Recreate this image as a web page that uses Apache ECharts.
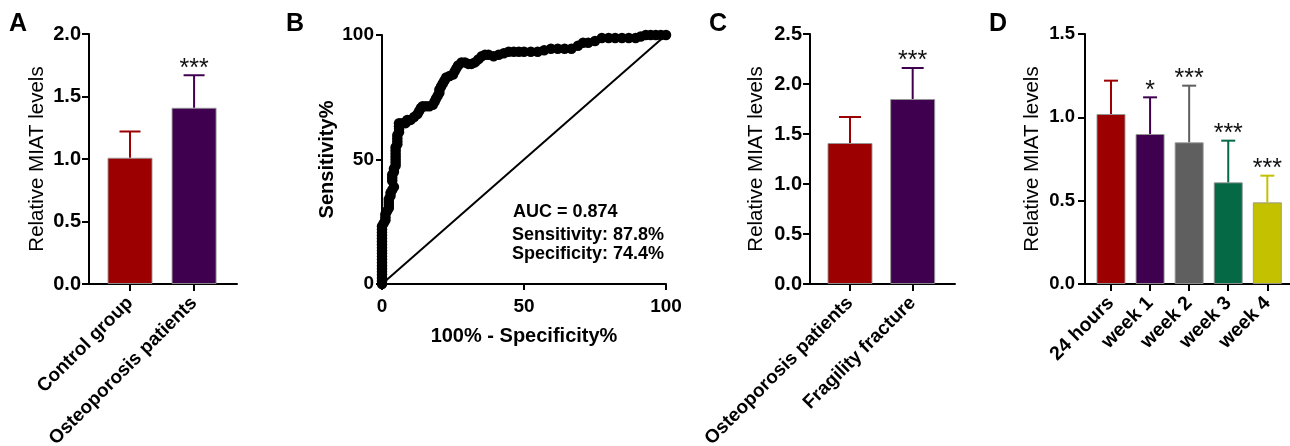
<!DOCTYPE html>
<html>
<head>
<meta charset="utf-8">
<script src="https://cdn.jsdelivr.net/npm/echarts@6/dist/echarts.min.js"></script>
<style>
  html, body { margin: 0; padding: 0; background: #fff; }
  #main { width: 1290px; height: 446px; }
</style>
</head>
<body>
<div id="main"></div>
<script>
const FONT = "'Liberation Sans', Arial, sans-serif";

// panel A
const catsA = ['Control group', 'Osteoporosis patients'];
const meanA = [1.01, 1.41];
const sdA = [0.21, 0.26];
const starsA = ['', '***'];
const colorsA = ['#9c0000', '#3f004f'];

// panel C
const catsC = ['Osteoporosis patients', 'Fragility fracture'];
const meanC = [1.41, 1.85];
const sdC = [0.26, 0.31];
const starsC = ['', '***'];
const colorsC = ['#9c0000', '#3f004f'];

// panel D
const catsD = ['24 hours', 'week 1', 'week 2', 'week 3', 'week 4'];
const meanD = [1.02, 0.90, 0.85, 0.61, 0.49];
const sdD = [0.20, 0.22, 0.34, 0.25, 0.16];
const starsD = ['', '*', '***', '***', '***'];
const colorsD = ['#9c0000', '#3f004f', '#5f5f5f', '#066946', '#c4c100'];

// panel B - ROC curve (100% - specificity, sensitivity)
const rocFpr = [
  0, 0, 0, 0, 0, 0, 0, 0, 0, 0, 0, 0, 0, 0, 0, 0, 0, 0, 0, 0,
  0.6, 1.2, 1.2, 1.2, 1.8, 2.4, 2.4, 2.4, 2.4, 3, 3, 3.6, 4.2, 3.6, 3.6, 3.6, 4.2, 4.2, 4.8, 4.8,
  4.8, 4.8, 4.8, 4.8, 4.8, 5.4, 5.4, 5.4, 5.4, 6, 6, 6, 6,
  7.1, 8.3, 8.9, 10.1, 11.3, 12.5, 13.1, 13.7, 14.3, 15.5, 16.7, 17.9, 18.5, 19, 19.6, 20.2, 20.2,
  20.8, 21.4, 22, 22.6, 23.8, 25, 25.6, 26.2, 26.8, 28, 29.2, 30.4, 31.5, 32.7, 33.9, 35.1, 36.3,
  37.5, 39.3, 41.1, 42.9, 44.6, 46.4, 48.2, 50, 52.4, 54.8, 57.1, 59.5, 61.9, 64.3, 66.7, 69,
  70.8, 72.6, 75, 77.4, 79.8, 82.1, 84.5, 86.9, 89.3, 91.1, 92.9, 94.6, 96.4, 98.2, 100
];
const rocSens = [
  0, 1.2, 2.4, 3.7, 4.9, 6.1, 7.3, 8.5, 9.8, 11, 12.2, 13.4, 14.6, 15.9, 17.1, 18.3, 19.5, 20.7, 22, 23.2,
  24.4, 25.6, 26.8, 28, 29.3, 30.5, 31.7, 32.9, 34.1, 35.4, 36.6, 37.8, 39, 41.5, 42.7, 43.9, 45.1, 46.3, 47.6, 48.8,
  50, 51.2, 52.4, 53.7, 54.9, 56.1, 57.3, 58.5, 59.8, 61, 62.2, 63.4, 64.6,
  64.6, 64.6, 65.9, 65.9, 67.1, 68.3, 69.5, 70.7, 71.4, 71.4, 71.4, 72, 73.2, 74.4, 75.6, 76.8, 78,
  79.3, 80.5, 81.7, 82.9, 83.5, 84.1, 85.4, 86.6, 87.8, 89, 89, 88.4, 88.4, 89, 90.2, 91.5, 92.1,
  92.1, 91.5, 92.1, 92.7, 93.3, 93.3, 93.3, 93.3, 93.3, 93.3, 93.9, 94.5, 94.5, 94.5, 94.5, 95.7,
  96.9, 96.9, 97.6, 98.8, 98.8, 98.8, 98.8, 98.8, 98.8, 99.4, 100, 100, 100, 100, 100
];
const refLine = [[0, 0], [100, 100]];
const statsB = ['AUC = 0.874', 'Sensitivity: 87.8%', 'Specificity: 74.4%'];

const chart = echarts.init(document.getElementById('main'), null, { renderer: 'canvas' });

const grids = [];
const xAxes = [];
const yAxes = [];
const series = [];

function barPanel(idx, g, cats, means, sds, stars, colors, opt) {
  grids.push({ left: g.left, top: 34, width: g.width, height: 250, outerBoundsMode: 'none', containLabel: false });
  const ticks = cats.map((c, i) => i);
  xAxes.push({
    gridIndex: idx, type: 'value', min: opt.xmin, max: opt.xmax,
    axisLine: { onZero: false, lineStyle: { color: '#000', width: 2 } },
    axisTick: { customValues: ticks, length: 7, lineStyle: { color: '#000', width: 2 } },
    axisLabel: {
      customValues: ticks, formatter: v => cats[v], rotate: 45, margin: 16,
      color: '#000', fontFamily: FONT, fontWeight: 'bold', fontSize: opt.catFont
    },
    splitLine: { show: false }
  });
  yAxes.push({
    gridIndex: idx, type: 'value', min: 0, max: opt.ymax, interval: 0.5,
    name: 'Relative MIAT levels', nameLocation: 'middle', nameGap: opt.nameGap,
    nameTextStyle: { color: '#000', fontFamily: FONT, fontSize: 20.5 },
    axisLine: { show: true, onZero: false, lineStyle: { color: '#000', width: 2 } },
    axisTick: { show: true, length: 7, lineStyle: { color: '#000', width: 2 } },
    axisLabel: {
      margin: opt.labMargin, formatter: v => v.toFixed(1),
      color: '#000', fontFamily: FONT, fontWeight: 'bold', fontSize: opt.tickFont
    },
    splitLine: { show: false }
  });
  series.push({
    type: 'bar', xAxisIndex: idx, yAxisIndex: idx, barWidth: opt.barW,
    data: means.map((m, i) => ({
      value: [i, m],
      itemStyle: { color: colors[i], borderColor: 'rgba(150,150,150,0.9)', borderWidth: 1 }
    })),
    animation: false
  });
  series.push({
    type: 'custom', xAxisIndex: idx, yAxisIndex: idx, z: 5,
    data: means.map((m, i) => [i, m, sds[i]]),
    encode: { x: 0, y: 1 },
    renderItem: function (params, api) {
      const i = params.dataIndex;
      const x = api.value(0), m = api.value(1), s = api.value(2);
      const b = api.coord([x, m]);
      const t = api.coord([x, m + s]);
      const half = opt.capW / 2;
      const col = colors[i];
      return {
        type: 'group',
        children: [
          { type: 'line', shape: { x1: b[0], y1: b[1], x2: t[0], y2: t[1] }, style: { stroke: col, lineWidth: 2 } },
          { type: 'line', shape: { x1: t[0] - half, y1: t[1], x2: t[0] + half, y2: t[1] }, style: { stroke: col, lineWidth: 2 } },
          {
            type: 'text', x: t[0], y: t[1] + 6,
            style: { text: stars[i], fill: '#111', fontFamily: FONT, fontSize: 25, align: 'center', verticalAlign: 'bottom' }
          }
        ]
      };
    },
    animation: false
  });
}

// A
barPanel(0, { left: 89, width: 148 }, catsA, meanA, sdA, starsA, colorsA,
  { xmin: -0.64, xmax: 1.67, ymax: 2.0, barW: 45, capW: 21, nameGap: 41, labMargin: 8, tickFont: 20, catFont: 19 });

// B
grids.push({ left: 382, top: 35, width: 284, height: 249, outerBoundsMode: 'none', containLabel: false });
xAxes.push({
  gridIndex: 1, type: 'value', min: 0, max: 100, interval: 50,
  name: '100% - Specificity%', nameLocation: 'middle', nameGap: 42,
  nameTextStyle: { color: '#000', fontFamily: FONT, fontWeight: 'bold', fontSize: 20 },
  axisLine: { onZero: false, lineStyle: { color: '#000', width: 2 } },
  axisTick: { length: 6, lineStyle: { color: '#000', width: 2 } },
  axisLabel: { margin: 13, color: '#000', fontFamily: FONT, fontWeight: 'bold', fontSize: 19 },
  splitLine: { show: false }
});
yAxes.push({
  gridIndex: 1, type: 'value', min: 0, max: 100, interval: 50,
  name: 'Sensitivity%', nameLocation: 'middle', nameGap: 45,
  nameTextStyle: { color: '#000', fontFamily: FONT, fontWeight: 'bold', fontSize: 20 },
  axisLine: { show: true, onZero: false, lineStyle: { color: '#000', width: 2 } },
  axisTick: { show: true, length: 6, lineStyle: { color: '#000', width: 2 } },
  axisLabel: { margin: 8, color: '#000', fontFamily: FONT, fontWeight: 'bold', fontSize: 19 },
  splitLine: { show: false }
});
series.push({
  type: 'line', xAxisIndex: 1, yAxisIndex: 1, data: refLine, showSymbol: false,
  lineStyle: { color: '#000', width: 2 }, animation: false, silent: true
});
series.push({
  type: 'line', xAxisIndex: 1, yAxisIndex: 1,
  data: rocFpr.map((f, i) => [f, rocSens[i]]),
  symbol: 'circle', symbolSize: 10.5, showAllSymbol: true,
  itemStyle: { color: '#000' }, lineStyle: { color: '#000', width: 3 },
  animation: false, z: 4
});

// C
barPanel(2, { left: 810, width: 145 }, catsC, meanC, sdC, starsC, colorsC,
  { xmin: -0.638, xmax: 1.675, ymax: 2.5, barW: 45, capW: 22, nameGap: 43, labMargin: 8, tickFont: 20, catFont: 19 });

// D
barPanel(3, { left: 1085, width: 205 }, catsD, meanD, sdD, starsD, colorsD,
  { xmin: -0.665, xmax: 4.58, ymax: 1.5, barW: 29, capW: 14, nameGap: 42, labMargin: 10, tickFont: 18.5, catFont: 19.5 });

const letterStyle = { fill: '#000', fontFamily: FONT, fontWeight: 'bold', fontSize: 25 };
const statStyle = { fill: '#000', fontFamily: FONT, fontWeight: 'bold', fontSize: 18, verticalAlign: 'middle' };

chart.setOption({
  animation: false,
  grid: grids,
  xAxis: xAxes,
  yAxis: yAxes,
  series: series,
  graphic: [
    { type: 'text', left: 9, top: 12, style: Object.assign({ text: 'A' }, letterStyle) },
    { type: 'text', left: 286, top: 12, style: Object.assign({ text: 'B' }, letterStyle) },
    { type: 'text', left: 709, top: 12, style: Object.assign({ text: 'C' }, letterStyle) },
    { type: 'text', left: 989, top: 12, style: Object.assign({ text: 'D' }, letterStyle) },
    { type: 'text', x: 513, y: 212.5, style: Object.assign({ text: statsB[0] }, statStyle) },
    { type: 'text', x: 512, y: 235, style: Object.assign({ text: statsB[1] }, statStyle) },
    { type: 'text', x: 512, y: 254.5, style: Object.assign({ text: statsB[2] }, statStyle) }
  ]
});
</script>
</body>
</html>
